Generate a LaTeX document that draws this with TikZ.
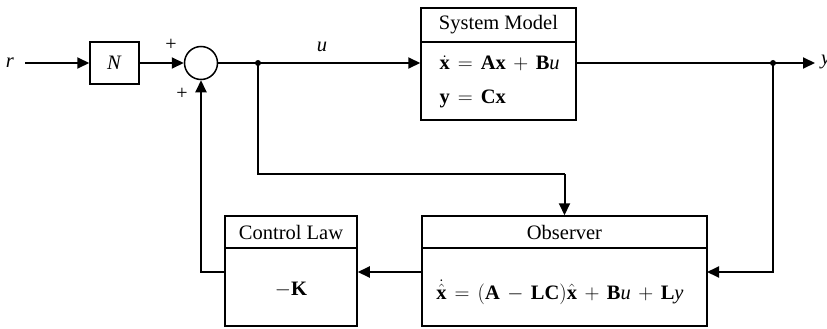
\documentclass[tikz,border=0pt]{standalone}
\usepackage{fontspec}
\setmainfont{Liberation Serif}
\usetikzlibrary{arrows.meta}
\begin{document}
\begin{tikzpicture}[x=1pt,y=-1pt,
  font=\fontsize{20.5}{24}\selectfont,
  box/.style={draw,line width=1.5pt,inner sep=0pt},
  wire/.style={line width=2pt},
  arr/.style={wire,-{Triangle[length=12pt,width=11pt]}},
  dotj/.style={circle,fill,inner sep=0pt,minimum size=6pt},
  plus/.style={font=\fontsize{20}{20}\selectfont},
  eq/.style={execute at begin node={\medmuskip=6.5mu\thickmuskip=7mu}}]
\useasboundingbox (0,0) rectangle (827,329);

% input
\node (r) at (10,63) {\textit{r}};
\coordinate (rs) at (25,63);
\node[box,minimum width=49pt,minimum height=42pt] (N) at (114.5,63) {\textit{N}};
\node[draw,circle,line width=1.5pt,minimum size=33pt,inner sep=0pt] (sum) at (201,63) {};
\node[plus] (p1) at (171,45) {+};
\node[plus] (p2) at (182,94) {+};
\node (u) at (322,47) {\textit{u}};

% system model
\node[box,minimum width=155pt,minimum height=34pt] (sysh) at (498.5,25) {System Model};
\node[box,minimum width=155pt,minimum height=78pt] (sysb) at (498.5,81) {};
\node[eq,anchor=base west] (e1) at (436,70) {$\dot{\mathbf{x}} = \mathbf{A}\mathbf{x} + \mathbf{B}\mathit{u}$};
\node[eq,anchor=base west] (e2) at (436,103) {$\mathbf{y} = \mathbf{C}\mathbf{x}$};

% observer
\node[box,minimum width=285pt,minimum height=32pt] (obsh) at (564.5,232) {Observer};
\node[box,minimum width=285pt,minimum height=78pt] (obsb) at (564.5,287) {};
\node[eq] (e3) at (560,292) {$\dot{\hat{\mathbf{x}}} = (\mathbf{A} - \mathbf{L}\mathbf{C})\hat{\mathbf{x}} + \mathbf{B}\mathit{u} + \mathbf{L}\mathit{y}$};

% control law
\node[box,minimum width=132pt,minimum height=32pt] (clh) at (291,232) {Control Law};
\node[box,minimum width=132pt,minimum height=78pt] (clb) at (291,287) {};
\node (K) at (291,290) {$-\mathbf{K}$};

% output label (cut by the edge, as in the reference)
\node[anchor=west,inner sep=0pt] (ylab) at (821,62) {\textit{y}};

% coordinates
\coordinate (j1) at (258,63);
\coordinate (j2) at (773,63);
\coordinate (out) at (815,63);
\coordinate (obsin) at (707,272);
\coordinate (bend) at (564.5,174);

% connectors
\draw[arr] (rs) -- (N);
\draw[arr] (N) -- (sum);
\draw[arr] (sum) -- (sum -| sysb.west);
\draw[arr] (sysb.east |- j2) -- (out);
\draw[arr] (j2) |- (obsin);
\draw[wire] (j1) |- (bend);
\draw[arr] (bend) -- (obsh.north);
\draw[arr] (obsb.west |- obsin) -- (clb.east |- obsin);
\draw[arr] (clb.west |- obsin) -| (sum.south);
\node[dotj] at (j1) {};
\node[dotj] at (j2) {};
\end{tikzpicture}
\end{document}
